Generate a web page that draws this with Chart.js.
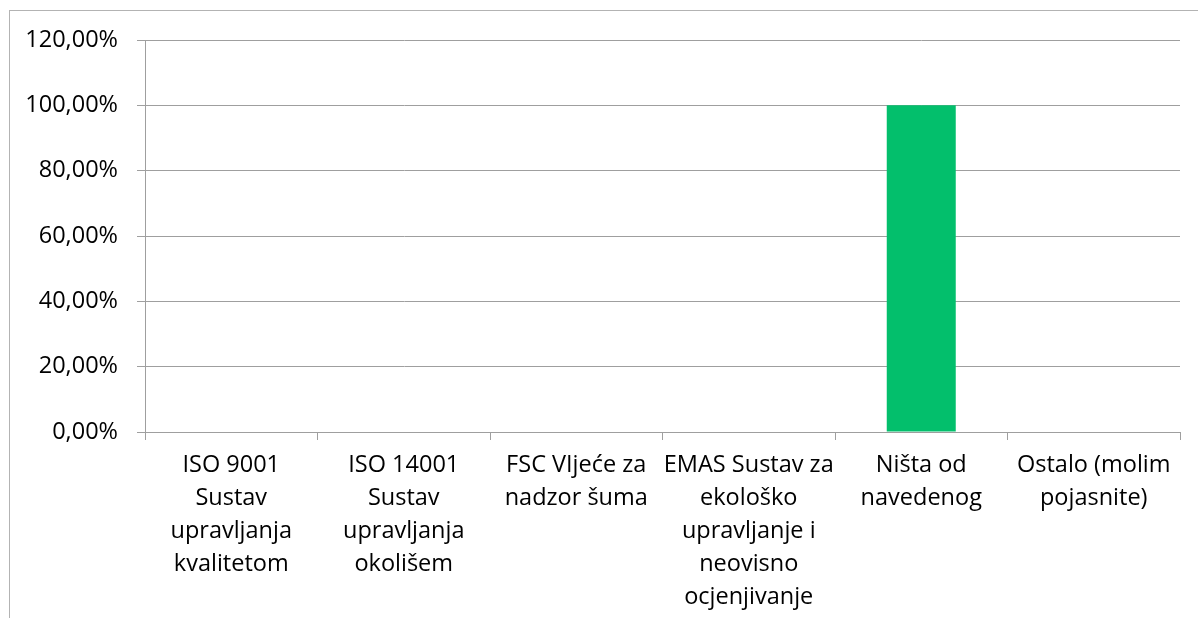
<!DOCTYPE html>
<html>
<head>
<meta charset="utf-8">
<script src="https://cdn.jsdelivr.net/npm/chart.js@4.4.1/dist/chart.umd.min.js"></script>
<style>
  html, body { margin: 0; padding: 0; background: #fff; overflow: hidden; }
  #wrap { position: relative; width: 1198px; height: 618px; }
  #frame { position: absolute; left: 9px; top: 10px; width: 1300px; height: 700px; border: 1px solid #b3b3b3; box-sizing: border-box; }
  canvas { position: absolute; left: 0; top: 0; }
</style>
</head>
<body>
<div id="wrap">
  <div id="frame"></div>
  <canvas id="c" width="1198" height="618"></canvas>
</div>
<script>
const categories = [
  ["ISO 9001", "Sustav", "upravljanja", "kvalitetom"],
  ["ISO 14001", "Sustav", "upravljanja", "okolišem"],
  ["FSC VIjeće za", "nadzor šuma"],
  ["EMAS Sustav za", "ekološko", "upravljanje i", "neovisno", "ocjenjivanje"],
  ["Ništa od", "navedenog"],
  ["Ostalo (molim", "pojasnite)"]
];
const values = [0, 0, 0, 0, 100, 0];
const yTicks = [0, 20, 40, 60, 80, 100, 120];

const FONT = { family: "'Open Sans', sans-serif", size: 23.5, lineHeight: 1.4 };

new Chart(document.getElementById('c'), {
  type: 'bar',
  data: {
    labels: categories,
    datasets: [{
      data: values,
      backgroundColor: '#03BF6C',
      borderWidth: 0,
      barPercentage: 0.4,
      categoryPercentage: 1.0
    }]
  },
  options: {
    responsive: false,
    animation: false,
    layout: { padding: { left: 0, right: 18, top: 40, bottom: 0 } },
    plugins: { legend: { display: false }, tooltip: { enabled: false } },
    scales: {
      x: {
        offset: true,
        grid: { display: true, drawOnChartArea: false, drawTicks: true, tickLength: 8, color: '#9f9f9f', offset: true },
        border: { display: true, color: '#9f9f9f', width: 1 },
        ticks: { color: '#000', font: FONT, maxRotation: 0, minRotation: 0, autoSkip: false, padding: 9 },
        afterFit: (s) => { s.height = 618 - 432; }
      },
      y: {
        min: 0, max: 120,
        afterBuildTicks: (s) => { s.ticks = yTicks.map(v => ({ value: v })); },
        grid: { color: '#9f9f9f', tickLength: 8, drawTicks: true },
        border: { display: true, color: '#9f9f9f', width: 1 },
        ticks: {
          color: '#000', font: FONT, padding: 19,
          callback: (v) => v.toFixed(2).replace('.', ',') + '%'
        },
        afterFit: (s) => { s.width = 145; }
      }
    }
  }
});
</script>
</body>
</html>
